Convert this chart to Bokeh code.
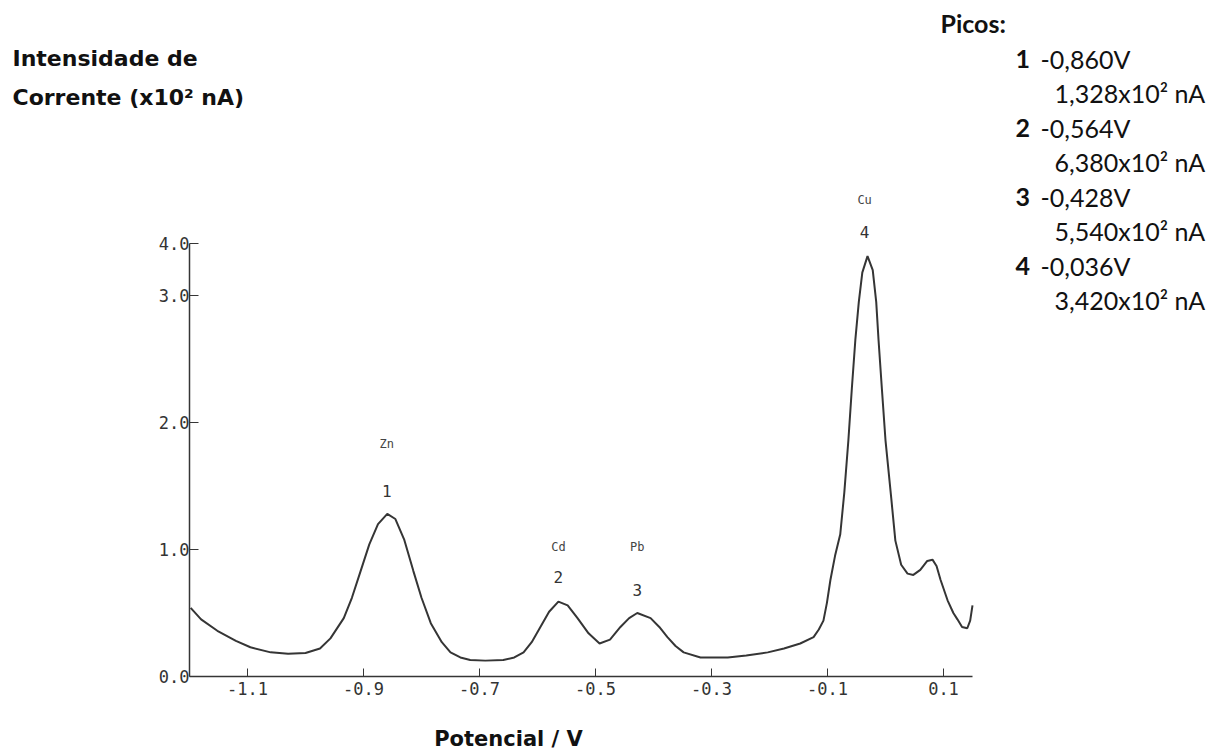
from bokeh.plotting import figure
from bokeh.models import Range1d, FixedTicker, Label, ColumnDataSource
from bokeh.core.properties import value
from bokeh.embed import file_html
from bokeh.resources import INLINE

# ---------------- data ----------------
potential = [-1.198, -1.18, -1.152, -1.12, -1.095, -1.06, -1.03, -1.00, -0.975, -0.957,
             -0.934, -0.92, -0.905, -0.89, -0.875, -0.859, -0.845, -0.83, -0.814, -0.80,
             -0.784, -0.765, -0.75, -0.733, -0.716, -0.69, -0.659, -0.64, -0.624, -0.61,
             -0.595, -0.58, -0.564, -0.548, -0.531, -0.512, -0.493, -0.475, -0.457, -0.442,
             -0.428, -0.405, -0.39, -0.376, -0.362, -0.348, -0.319, -0.272, -0.24, -0.203,
             -0.175, -0.147, -0.124, -0.115, -0.107, -0.101, -0.095, -0.087, -0.078, -0.071,
             -0.064, -0.058, -0.052, -0.046, -0.04, -0.031, -0.022, -0.016, -0.012, -0.006,
             0.0, 0.01, 0.017, 0.027, 0.038, 0.048, 0.06, 0.072, 0.081, 0.088,
             0.095, 0.107, 0.117, 0.124, 0.132, 0.141, 0.146, 0.15]
current = [0.54, 0.45, 0.36, 0.28, 0.23, 0.19, 0.18, 0.185, 0.22, 0.30,
           0.46, 0.62, 0.83, 1.04, 1.20, 1.28, 1.24, 1.08, 0.83, 0.62,
           0.42, 0.27, 0.19, 0.15, 0.13, 0.125, 0.13, 0.15, 0.19, 0.27,
           0.39, 0.51, 0.59, 0.56, 0.46, 0.34, 0.26, 0.29, 0.39, 0.46,
           0.50, 0.46, 0.39, 0.31, 0.24, 0.19, 0.15, 0.15, 0.165, 0.19,
           0.22, 0.26, 0.31, 0.37, 0.44, 0.58, 0.76, 0.95, 1.12, 1.45,
           1.86, 2.27, 2.65, 2.95, 3.18, 3.31, 3.20, 2.95, 2.65, 2.25,
           1.86, 1.40, 1.07, 0.88, 0.81, 0.80, 0.84, 0.91, 0.92, 0.87,
           0.76, 0.60, 0.50, 0.45, 0.39, 0.38, 0.44, 0.56]

peak_numbers = ["1", "2", "3", "4"]
peak_elements = ["Zn", "Cd", "Pb", "Cu"]
peak_potentials = [-0.860, -0.564, -0.428, -0.036]
peak_potential_labels = ["-0,860V", "-0,564V", "-0,428V", "-0,036V"]
peak_current_labels = ["1,328x10\u00b2 nA", "6,380x10\u00b2 nA", "5,540x10\u00b2 nA", "3,420x10\u00b2 nA"]

x_tick_values = [-1.1, -0.9, -0.7, -0.5, -0.3, -0.1, 0.1]
x_tick_labels = ["-1.1", "-0.9", "-0.7", "-0.5", "-0.3", "-0.1", "0.1"]
y_tick_values = [0, 1, 2, 3, 3.41]
y_tick_labels = ["0.0", "1.0", "2.0", "3.0", "4.0"]

# ---------------- layout ----------------
W, H = 1224, 751
AXIS_LEFT_PX, AXIS_BOTTOM_PX = 189, 676     # where the axes cross on the canvas
X_START, X_END = -1.2, 0.15                 # extent of the drawn x axis
PX_PER_X = 580.0
PX_PER_Y = 127.0


def px2x(px):
    return X_START + (px - AXIS_LEFT_PX) / PX_PER_X


def py2y(py):
    return (AXIS_BOTTOM_PX - py) / PX_PER_Y


p = figure(width=W, height=H, output_backend="svg", toolbar_location=None,
           x_range=Range1d(px2x(0), px2x(W)), y_range=Range1d(py2y(H), py2y(0)),
           min_border_left=0, min_border_right=0, min_border_top=0, min_border_bottom=0)
p.outline_line_color = None
p.grid.visible = False
p.background_fill_color = "white"
p.border_fill_color = "white"

ink = "#353535"
src = ColumnDataSource(dict(x=potential, y=current))
p.line("x", "y", source=src, line_color=ink, line_width=2)

# axes (drawn at fixed data locations inside the canvas)
xa = p.xaxis[0]
xa.fixed_location = 0
xa.ticker = FixedTicker(ticks=x_tick_values)
xa.major_label_overrides = {v: t for v, t in zip(x_tick_values, x_tick_labels)}
xa.bounds = (X_START, X_END)
xa.axis_line_color = ink
xa.axis_line_width = 1.5
xa.major_tick_in = 8
xa.major_tick_out = 0
xa.major_tick_line_color = ink
xa.minor_tick_line_color = None
xa.major_label_standoff = 5
xa.major_label_text_font = "DejaVu Sans Mono"
xa.major_label_text_font_size = "17px"
xa.major_label_text_color = "#333333"

ya = p.yaxis[0]
ya.fixed_location = X_START
ya.ticker = FixedTicker(ticks=y_tick_values)
ya.major_label_overrides = {v: t for v, t in zip(y_tick_values, y_tick_labels)}
ya.bounds = (0, y_tick_values[-1])
ya.axis_line_color = ink
ya.axis_line_width = 1.5
ya.major_tick_in = 9
ya.major_tick_out = 0
ya.major_tick_line_color = ink
ya.minor_tick_line_color = None
ya.major_label_standoff = 0
ya.major_label_text_font = "DejaVu Sans Mono"
ya.major_label_text_font_size = "17px"
ya.major_label_text_color = "#333333"

# peak annotations on the curve
element_label_y = [1.83, 1.02, 1.02, 3.75]
number_label_y = [1.46, 0.78, 0.68, 3.50]
p.text(x=peak_potentials, y=element_label_y, text=peak_elements,
       text_font=value("DejaVu Sans Mono"), text_font_size="12px",
       text_align="center", text_baseline="middle", text_color="#444444")
p.text(x=peak_potentials, y=number_label_y, text=peak_numbers,
       text_font=value("DejaVu Sans Mono"), text_font_size="16px",
       text_align="center", text_baseline="middle", text_color="#333333")

# axis titles
head_font = "DejaVu Sans"
for txt, py in [("Intensidade de", 58), ("Corrente (x10\u00b2 nA)", 97)]:
    p.add_layout(Label(x=px2x(12), y=py2y(py), text=txt, text_font=head_font,
                       text_font_style="bold", text_font_size="22px",
                       text_align="left", text_baseline="middle", text_color="#111111"))
p.add_layout(Label(x=px2x(508), y=py2y(738), text="Potencial / V", text_font=head_font,
                   text_font_style="bold", text_font_size="21px",
                   text_align="center", text_baseline="middle", text_color="#111111"))

# peak table (top right)
side_font = "Lato"
p.add_layout(Label(x=px2x(940), y=py2y(22), text="Picos:", text_font=side_font,
                   text_font_style="bold", text_font_size="25px",
                   text_align="left", text_baseline="middle", text_color="#111111"))
row_y = 58
for num, pv, pc in zip(peak_numbers, peak_potential_labels, peak_current_labels):
    p.add_layout(Label(x=px2x(1015), y=py2y(row_y), text=num, text_font=side_font,
                       text_font_style="bold", text_font_size="25px",
                       text_align="left", text_baseline="middle", text_color="#111111"))
    p.add_layout(Label(x=px2x(1040), y=py2y(row_y), text=pv, text_font=side_font,
                       text_font_size="25px",
                       text_align="left", text_baseline="middle", text_color="#111111"))
    p.add_layout(Label(x=px2x(1054), y=py2y(row_y + 34), text=pc, text_font=side_font,
                       text_font_size="25px",
                       text_align="left", text_baseline="middle", text_color="#111111"))
    row_y += 69

open("out.html", "w").write(file_html(p, INLINE))
